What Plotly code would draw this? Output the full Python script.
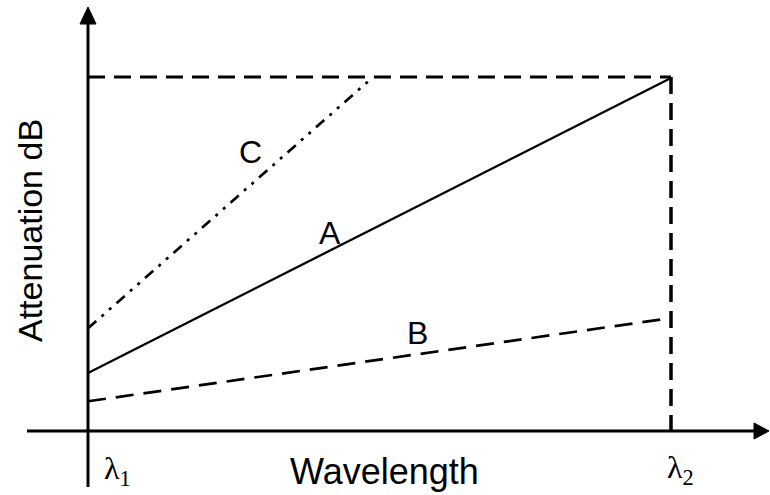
import plotly.graph_objects as go

# ---- data (wavelength in units of lambda, attenuation in arbitrary dB units) ----
wl = [1.0, 2.0]                 # lambda1, lambda2
att_A = [1.64, 9.97]            # curve A
att_B = [0.84, 3.19]            # curve B
wl_C = [1.0, 1.489]             # curve C reaches the top level early
att_C = [2.90, 10.0]
att_max = 10.0
x_tick_labels = ["λ<sub>1</sub>", "λ<sub>2</sub>"]

# ---- pixel mapping helpers (layout only) ----
W, H = 770, 495
x0px, x1px = 88, 671          # pixel of lambda1 / lambda2
y0px, ytop = 431, 77           # pixel of attenuation 0 / att_max
sx = (x1px - x0px) / (wl[1] - wl[0])
sy = (y0px - ytop) / att_max
xr = [wl[0] - x0px / sx, wl[0] + (W - x0px) / sx]
yr = [-(H - y0px) / sy, y0px / sy]

def px2x(p):
    return wl[0] + (p - x0px) / sx

def px2y(p):
    return (y0px - p) / sy

fig = go.Figure()
black = "black"

# guide lines (top level and lambda2)
fig.add_trace(go.Scatter(x=[wl[0], wl[1]], y=[att_max, att_max], mode="lines",
                         line=dict(color=black, width=3, dash="17px,9px")))
fig.add_trace(go.Scatter(x=[wl[1], wl[1]], y=[att_max, 0], mode="lines",
                         line=dict(color=black, width=3.5, dash="17px,9px")))
# curves
fig.add_trace(go.Scatter(x=wl, y=att_A, mode="lines", line=dict(color=black, width=2.3)))
fig.add_trace(go.Scatter(x=wl, y=att_B, mode="lines",
                         line=dict(color=black, width=2.7, dash="18px,10px")))
fig.add_trace(go.Scatter(x=wl_C, y=att_C, mode="lines",
                         line=dict(color=black, width=2.7, dash="11px,7px,3px,7px,3px,7px")))

# axes (lines + arrowheads)
shapes = [
    dict(type="line", xref="x", yref="y", x0=px2x(27), x1=px2x(756), y0=0, y1=0,
         line=dict(color=black, width=3)),
    dict(type="line", xref="x", yref="y", x0=wl[0], x1=wl[0], y0=px2y(487), y1=px2y(22),
         line=dict(color=black, width=3)),
    dict(type="path", xref="x", yref="y",
         path=f"M {px2x(754)} {px2y(423)} L {px2x(769)} {px2y(431)} L {px2x(754)} {px2y(439)} Z",
         fillcolor=black, line=dict(color=black, width=1)),
    dict(type="path", xref="x", yref="y",
         path=f"M {px2x(80)} {px2y(24)} L {px2x(88)} {px2y(7)} L {px2x(96)} {px2y(24)} Z",
         fillcolor=black, line=dict(color=black, width=1)),
]

font = dict(family="Arial, Liberation Sans, sans-serif", size=32, color=black)
big = dict(family="Arial, Liberation Sans, sans-serif", size=36, color=black)
yfont = dict(family="Arial, Liberation Sans, sans-serif", size=34, color=black)
serif = dict(family="Liberation Serif, Times New Roman, serif", size=32, color=black)
annotations = [
    dict(x=px2x(250), y=px2y(152), text="C", showarrow=False, font=font),
    dict(x=px2x(330), y=px2y(233), text="A", showarrow=False, font=font),
    dict(x=px2x(417), y=px2y(333), text="B", showarrow=False, font=font),
    dict(x=px2x(384), y=px2y(471), text="Wavelength", showarrow=False, font=big),
    dict(x=px2x(30), y=px2y(231), text="Attenuation dB", textangle=-90,
         showarrow=False, font=yfont),
    dict(x=px2x(117), y=px2y(470), text=x_tick_labels[0], showarrow=False, font=serif),
    dict(x=px2x(680), y=px2y(469), text=x_tick_labels[1], showarrow=False, font=serif),
]

fig.update_layout(
    width=W, height=H, margin=dict(l=0, r=0, t=0, b=0),
    paper_bgcolor="white", plot_bgcolor="white", showlegend=False,
    xaxis=dict(range=xr, visible=False, fixedrange=True),
    yaxis=dict(range=yr, visible=False, fixedrange=True),
    shapes=shapes, annotations=annotations, hovermode=False,
)
fig.write_html("out.html", config={"displayModeBar": False},
               post_script="document.body.style.margin='0';document.body.style.padding='0';")
